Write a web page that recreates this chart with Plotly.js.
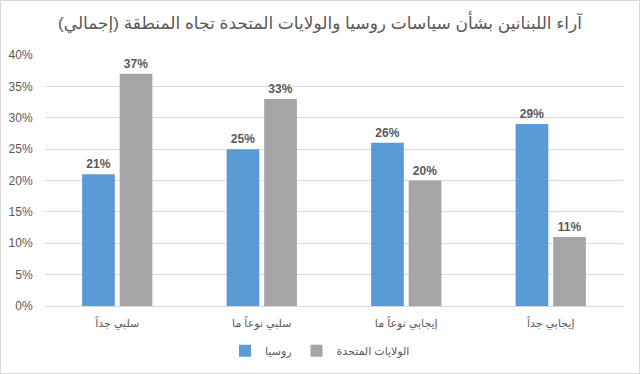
<!DOCTYPE html>
<html>
<head>
<meta charset="utf-8">
<script src="https://cdn.plot.ly/plotly-3.0.1.min.js"></script>
<style>
html,body{margin:0;padding:0;background:#fff;}
#chart{width:640px;height:374px;box-sizing:border-box;border:1px solid #d9d9d9;}
</style>
</head>
<body>
<div id="chart"></div>
<script>
const categories = ["سلبي جداً", "سلبي نوعاً ما", "إيجابي نوعاً ما", "إيجابي جداً"];
const russia = [21, 25, 26, 29];
const usa = [37, 33, 20, 11];
const seriesNames = ["روسيا", "الولايات المتحدة"];
const titleText = "آراء اللبنانين بشأن سياسات روسيا والولايات المتحدة تجاه المنطقة (إجمالي)";

const font = "Liberation Sans, DejaVu Sans, Arial, sans-serif";
function trace(vals, name, color) {
  return {
    type: "bar", x: categories, y: vals, name: name,
    marker: {color: color},
    text: vals.map(v => v + "%"), textposition: "outside",
    textfont: {family: font, size: 12, color: "#595959", weight: "bold"},
    cliponaxis: false, hoverinfo: "skip"
  };
}
const data = [trace(russia, seriesNames[0], "#5B9BD5"), trace(usa, seriesNames[1], "#A5A5A5")];
const layout = {
  width: 638, height: 372,
  margin: {l: 44, r: 16, t: 54, b: 67, autoexpand: false},
  paper_bgcolor: "#fff", plot_bgcolor: "#fff",
  title: {text: titleText, x: 0.5, xanchor: "center", y: 0.94, yanchor: "middle",
          font: {family: font, size: 17, color: "#595959"}},
  bargap: 0.48, bargroupgap: 0.13,
  xaxis: {type: "category", showgrid: false, showline: true, linecolor: "#d9d9d9", linewidth: 1,
          ticks: "outside", ticklen: 7, tickcolor: "rgba(0,0,0,0)",
          tickfont: {family: font, size: 11, color: "#595959"}, fixedrange: true},
  yaxis: {range: [0, 40], dtick: 5, ticksuffix: "%", showgrid: true, gridcolor: "#d9d9d9",
          zeroline: false, showline: false, ticks: "outside", ticklen: 9, tickcolor: "rgba(0,0,0,0)",
          tickfont: {family: font, size: 12, color: "#595959"}, fixedrange: true},
  showlegend: true,
  legend: {orientation: "h", x: 0.5, xanchor: "center", xref: "container",
           y: 0.06, yanchor: "middle", yref: "container",
           font: {family: font, size: 11, color: "#595959"}, itemwidth: 30, traceorder: "normal"}
};
Plotly.newPlot("chart", data, layout, {displayModeBar: false, staticPlot: true});
</script>
</body>
</html>
